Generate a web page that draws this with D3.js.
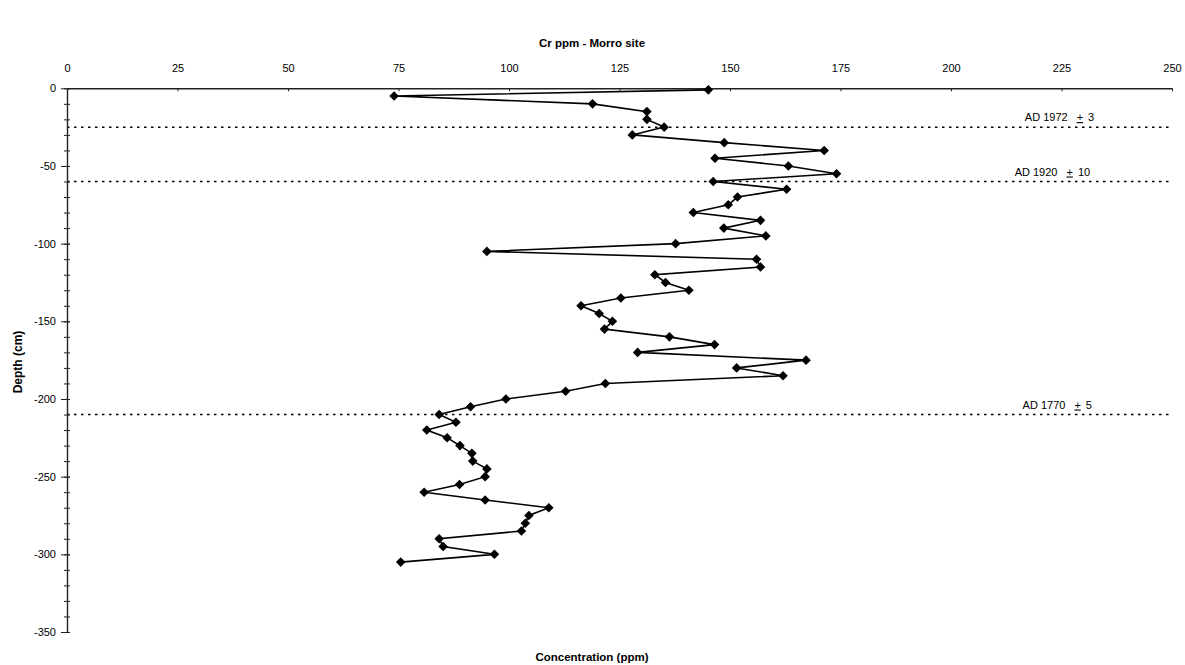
<!DOCTYPE html>
<html>
<head>
<meta charset="utf-8">
<script src="https://cdn.jsdelivr.net/npm/d3@7"></script>
<style>
  body { margin: 0; background: #fff; }
  text { font-family: "Liberation Sans", Arial, sans-serif; fill: #000; }
</style>
</head>
<body>
<div id="chart"></div>
<script>
// depth (cm) and Cr concentration (ppm)
const depth = [-1, -5, -10, -15, -20, -25, -30, -35, -40, -45, -50, -55, -60, -65, -70, -75,
  -80, -85, -90, -95, -100, -105, -110, -115, -120, -125, -130, -135, -140, -145, -150,
  -155, -160, -165, -170, -175, -180, -185, -190, -195, -200, -205, -210, -215, -220,
  -225, -230, -235, -240, -245, -250, -255, -260, -265, -270, -275, -280, -285, -290,
  -295, -300, -305];
const cr = [145.1, 74.0, 118.9, 131.2, 131.2, 135.1, 127.9, 148.7, 171.3, 146.6, 163.2, 174.1,
  146.2, 162.8, 151.7, 149.6, 141.7, 156.9, 148.6, 158.1, 137.7, 95.0, 156.0, 156.9, 133.0,
  135.4, 140.7, 125.3, 116.3, 120.4, 123.4, 121.6, 136.3, 146.5, 129.1, 167.2, 151.5, 162.0,
  121.8, 112.8, 99.3, 91.3, 84.2, 88.0, 81.4, 86.0, 88.9, 91.6, 91.8, 95.0, 94.6, 88.8,
  80.8, 94.6, 109.0, 104.5, 103.7, 102.8, 84.2, 85.1, 96.7, 75.5];

const xTicks = [0, 25, 50, 75, 100, 125, 150, 175, 200, 225, 250];
const yTicks = [0, -50, -100, -150, -200, -250, -300, -350];

// dated horizons
const horizonDepth = [-25, -60, -210];
const horizonYear = ["AD 1972", "AD 1920", "AD 1770"];
const horizonErr = ["3", "10", "5"];
const horizonLabelX = [216.7, 214.4, 216.2];

const width = 1185, height = 665;
const x = d3.scaleLinear().domain([0, 250]).range([67, 1172]);
const y = d3.scaleLinear().domain([0, -350]).range([88.3, 632]);

const svg = d3.select("#chart").append("svg")
  .attr("width", width)
  .attr("height", height);

// title + axis titles
svg.append("text")
  .attr("x", 592).attr("y", 47)
  .attr("text-anchor", "middle")
  .style("font-weight", "bold").style("font-size", "11.5px")
  .text("Cr ppm - Morro site");

svg.append("text")
  .attr("x", 592).attr("y", 661)
  .attr("text-anchor", "middle")
  .style("font-weight", "bold").style("font-size", "11.5px")
  .text("Concentration (ppm)");

svg.append("text")
  .attr("transform", "translate(22,362) rotate(-90)")
  .attr("text-anchor", "middle")
  .style("font-weight", "bold").style("font-size", "12px")
  .text("Depth (cm)");

// dotted horizon lines
svg.append("g")
  .selectAll("line")
  .data(horizonDepth)
  .join("line")
  .attr("x1", x(0)).attr("x2", x(250))
  .attr("y1", d => y(d)).attr("y2", d => y(d))
  .attr("stroke", "#000")
  .attr("stroke-width", 1.5)
  .attr("stroke-dasharray", "2.5,4.5");

const lab = svg.append("g")
  .selectAll("text")
  .data(horizonDepth)
  .join("text")
  .attr("x", (d, i) => x(horizonLabelX[i]))
  .attr("y", d => y(d) - 6)
  .style("font-size", "11px");
lab.append("tspan").text((d, i) => horizonYear[i]);
lab.append("tspan").attr("dx", 9).style("text-decoration", "underline").text("+");
lab.append("tspan").attr("dx", 5).text((d, i) => horizonErr[i]);

// top axis
const xAxis = svg.append("g")
  .attr("transform", `translate(0,${y(0)})`)
  .call(d3.axisTop(x).tickValues(xTicks).tickSizeInner(-3).tickSizeOuter(0).tickPadding(16));
xAxis.select(".domain").attr("stroke", "#222").attr("stroke-width", 1.4);
xAxis.selectAll(".tick line").attr("stroke", "#222");
xAxis.selectAll("text").style("font-size", "11px").attr("font-family", null);

// left axis, minor ticks every 10
const minor = svg.append("g")
  .attr("transform", `translate(${x(0)},0)`)
  .call(d3.axisLeft(y).tickValues(d3.range(0, -351, -10)).tickSize(3).tickFormat(""));
minor.select(".domain").remove();
minor.selectAll(".tick line").attr("x1", 3).attr("stroke", "#222");

const yAxis = svg.append("g")
  .attr("transform", `translate(${x(0)},0)`)
  .call(d3.axisLeft(y).tickValues(yTicks).tickSizeInner(6).tickSizeOuter(0).tickPadding(5)
    .tickFormat(d => String(d)));
yAxis.select(".domain").attr("stroke", "#222").attr("stroke-width", 1.4);
yAxis.selectAll(".tick line").attr("x1", 3).attr("stroke", "#222");
yAxis.selectAll("text").style("font-size", "11px").attr("font-family", null);

// profile
const pts = depth.map((d, i) => [cr[i], d]);
svg.append("path")
  .datum(pts)
  .attr("fill", "none")
  .attr("stroke", "#000")
  .attr("stroke-width", 1.6)
  .attr("d", d3.line().x(d => x(d[0])).y(d => y(d[1])));

svg.append("g")
  .selectAll("path")
  .data(pts)
  .join("path")
  .attr("transform", d => `translate(${x(d[0])},${y(d[1])}) rotate(45)`)
  .attr("d", d3.symbol(d3.symbolSquare, 46))
  .attr("fill", "#000");
</script>
</body>
</html>
